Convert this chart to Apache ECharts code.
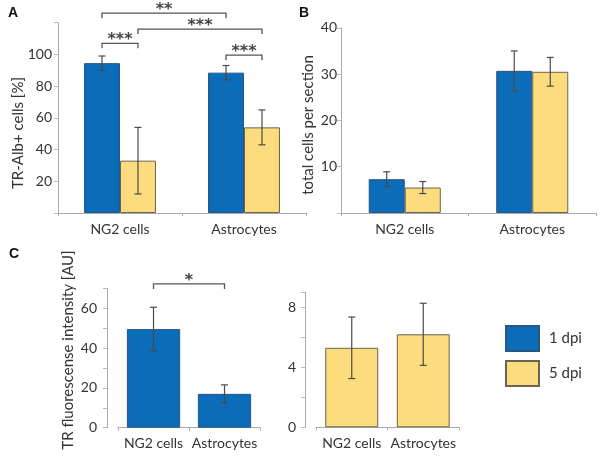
<!DOCTYPE html>
<html><head><meta charset="utf-8">
<script src="https://cdn.jsdelivr.net/npm/echarts@6/dist/echarts.min.js"></script>
<style>html,body{margin:0;padding:0;background:#fff}#c{width:601px;height:465px}</style>
</head><body><div id="c"></div>
<script>
// ---- data ----
const cats = ['NG2 cells', 'Astrocytes'];
const seriesNames = ['1 dpi', '5 dpi'];
// Panel A: TR-Alb+ cells [%]
const a1dpi = [94.5, 88.5];
const a1dpiErr = [4.5, 4.5];
const a5dpi = [33, 54];
const a5dpiErr = [21, 11];
// Panel B: total cells per section
const b1dpi = [7.3, 30.7];
const b1dpiErr = [1.6, 4.3];
const b5dpi = [5.5, 30.5];
const b5dpiErr = [1.3, 3.1];
// Panel C: TR fluorescence intensity [AU]
const c1dpi = [49.5, 17];
const c1dpiErr = [11, 4.5];
const c5dpi = [5.3, 6.2];
const c5dpiErr = [2.05, 2.07];
// significance brackets: [cat1, bar1, cat2, bar2, level]
const sigA = [[0,0,1,0,126],[0,1,1,1,116],[0,0,0,1,107],[1,0,1,1,99.5]];
const sigALabels = ['**','***','***','***'];
const sigC = [[0,0,1,0,72.2]];
const sigCLabels = ['*'];

const BLUE = '#0b6cb9', YELLOW = '#fcdc7c';
const FONT = 'Lato';
const chart = echarts.init(document.getElementById('c'), null, {renderer:'canvas'});

function errSeries(grid, vals, errs, barIdx, nBars, gapFrac){
  return {
    type:'custom', xAxisIndex:grid, yAxisIndex:grid, z:5, silent:true,
    data: vals.map((v,i)=>[i, v, errs[i]]),
    renderItem(params, api){
      const cat = api.value(0), v = api.value(1), e = api.value(2);
      const band = api.size([1,0])[0];
      const bw = band*(1-gapFrac)/nBars;
      const x = api.coord([cat, v])[0] + (barIdx-(nBars-1)/2)*bw;
      const yt = api.coord([cat, v+e])[1], yb = api.coord([cat, v-e])[1];
      const st = {stroke:'#4a4a4a', lineWidth:1.2};
      return {type:'group', children:[
        {type:'line', shape:{x1:x,y1:yt,x2:x,y2:yb}, style:st},
        {type:'line', shape:{x1:x-3.5,y1:yt,x2:x+3.5,y2:yt}, style:st},
        {type:'line', shape:{x1:x-3.5,y1:yb,x2:x+3.5,y2:yb}, style:st}
      ]};
    }
  };
}
function sigSeries(grid, rows, labels, nBars, gapFrac){
  return {
    type:'custom', xAxisIndex:grid, yAxisIndex:grid, z:6, silent:true, clip:false,
    data: rows,
    renderItem(params, api){
      const r = rows[params.dataIndex];
      const band = api.size([1,0])[0];
      const bw = band*(1-gapFrac)/nBars;
      const x1 = api.coord([r[0], r[4]])[0] + (r[1]-(nBars-1)/2)*bw;
      const x2 = api.coord([r[2], r[4]])[0] + (r[3]-(nBars-1)/2)*bw;
      const y = api.coord([r[0], r[4]])[1];
      return {type:'group', children:[
        {type:'polyline', shape:{points:[[x1,y+5],[x1,y],[x2,y],[x2,y+5]]}, style:{stroke:'#555', lineWidth:1.3, fill:null}},
        {type:'text', style:{text:labels[params.dataIndex], x:(x1+x2)/2, y:y-3, align:'center', verticalAlign:'middle', fontSize:16, fontWeight:'bold', fontFamily:'DejaVu Sans', fill:'#444'}}
      ]};
    }
  };
}
function xAx(grid){
  return {type:'category', gridIndex:grid, data:cats,
    axisLine:{lineStyle:{color:'#aaa', width:1}},
    axisTick:{show:true, length:3, lineStyle:{color:'#aaa'}},
    axisLabel:{color:'#333', fontSize:14, fontFamily:FONT, margin:9, interval:0, hideOverlap:false}};
}
function yAx(grid, max, interval, fmt, margin, offset){
  return {type:'value', gridIndex:grid, min:0, max:max, interval:interval, offset:offset||0,
    splitLine:{show:false},
    axisLine:{show:true, lineStyle:{color:'#aaa', width:1}},
    axisTick:{show:true, length:4, lineStyle:{color:'#bbb'}},
    axisLabel:{color:'#333', fontSize:14, fontFamily:FONT, margin:margin, formatter:fmt}};
}
const barStyle = (c)=>({color:c, borderColor: c===BLUE ? '#2a5584' : '#6a6352', borderWidth:1});

const gapA = 0.42, gapB = 0.435, gapC1 = 0.25, gapC2 = 0.26;

chart.setOption({
  animation:false,
  textStyle:{fontFamily:FONT},
  grid:[
    {left:58, top:22.7, width:248, height:190.3},
    {left:341, top:27.8, width:255, height:185.2},
    {left:118, top:288.3, width:142, height:139.4},
    {left:316, top:292.3, width:143, height:135}
  ],
  xAxis:[xAx(0), xAx(1), xAx(2), xAx(3)],
  yAxis:[
    yAx(0, 120, 20, v => (v===0||v===120) ? '' : String(v), 6),
    yAx(1, 40, 10, v => v===0 ? '' : String(v), 4),
    yAx(2, 70, 10, v => (v%20===0 && v<70) ? String(v) : '', 10, 11),
    yAx(3, 9, 2, v => (v%4===0 && v<9) ? String(v) : '', 9, 11)
  ],
  legend:{orient:'vertical', left:500, top:320, itemWidth:33, itemHeight:25, itemGap:8,
    icon:'rect', data:seriesNames, selectedMode:false,
    textStyle:{fontSize:15, color:'#333', fontFamily:FONT, padding:[0,0,0,5]}},
  graphic:[
    {type:'text', left:8, top:6, style:{text:'A', fontSize:14, fontWeight:'bold', fontFamily:'Liberation Sans', fill:'#111'}},
    {type:'text', left:299, top:6, style:{text:'B', fontSize:14, fontWeight:'bold', fontFamily:'Liberation Sans', fill:'#111'}},
    {type:'text', left:9, top:247, style:{text:'C', fontSize:14, fontWeight:'bold', fontFamily:'Liberation Sans', fill:'#111'}},
    {type:'text', x:18, y:133, rotation:Math.PI/2, style:{text:'TR-Alb+ cells [%]', fontSize:15, fontFamily:FONT, fill:'#333', align:'center', verticalAlign:'middle'}},
    {type:'text', x:308, y:125, rotation:Math.PI/2, style:{text:'total cells per section', fontSize:15, fontFamily:FONT, fill:'#333', align:'center', verticalAlign:'middle'}},
    {type:'text', x:68, y:350, rotation:Math.PI/2, style:{text:'TR fluorescense intensity [AU]', fontSize:15, fontFamily:FONT, fill:'#333', align:'center', verticalAlign:'middle'}}
  ],
  series:[
    {name:seriesNames[0], type:'bar', xAxisIndex:0, yAxisIndex:0, data:a1dpi, itemStyle:barStyle(BLUE), barGap:'0%', barCategoryGap:(gapA*100)+'%'},
    {name:seriesNames[1], type:'bar', xAxisIndex:0, yAxisIndex:0, data:a5dpi, itemStyle:barStyle(YELLOW), barGap:'0%', barCategoryGap:(gapA*100)+'%'},
    {name:seriesNames[0], type:'bar', xAxisIndex:1, yAxisIndex:1, data:b1dpi, itemStyle:barStyle(BLUE), barGap:'0%', barCategoryGap:(gapB*100)+'%'},
    {name:seriesNames[1], type:'bar', xAxisIndex:1, yAxisIndex:1, data:b5dpi, itemStyle:barStyle(YELLOW), barGap:'0%', barCategoryGap:(gapB*100)+'%'},
    {name:seriesNames[0], type:'bar', xAxisIndex:2, yAxisIndex:2, data:c1dpi, itemStyle:barStyle(BLUE), barCategoryGap:(gapC1*100)+'%'},
    {name:seriesNames[1], type:'bar', xAxisIndex:3, yAxisIndex:3, data:c5dpi, itemStyle:barStyle(YELLOW), barCategoryGap:(gapC2*100)+'%'},
    errSeries(0, a1dpi, a1dpiErr, 0, 2, gapA),
    errSeries(0, a5dpi, a5dpiErr, 1, 2, gapA),
    errSeries(1, b1dpi, b1dpiErr, 0, 2, gapB),
    errSeries(1, b5dpi, b5dpiErr, 1, 2, gapB),
    errSeries(2, c1dpi, c1dpiErr, 0, 1, gapC1),
    errSeries(3, c5dpi, c5dpiErr, 0, 1, gapC2),
    sigSeries(0, sigA, sigALabels, 2, gapA),
    sigSeries(2, sigC, sigCLabels, 1, gapC1)
  ]
});
</script></body></html>
